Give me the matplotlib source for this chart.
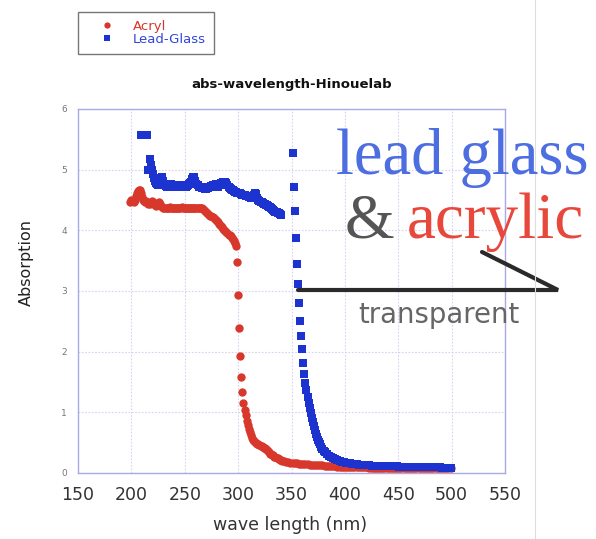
import matplotlib
matplotlib.use("Agg")
import matplotlib.pyplot as plt
from matplotlib.lines import Line2D

W, H = 596, 539

# ---------------- data ----------------
acryl_wl = list(range(199, 341)) + list(range(341, 501, 2))
acryl_abs = ([4.47, 4.50, 4.48, 4.46, 4.50, 4.56, 4.62, 4.65, 4.66, 4.66,   # 199-208
              4.62, 4.55, 4.50, 4.48, 4.47, 4.49, 4.46, 4.44, 4.43, 4.45,   # 209-218
              4.48, 4.46, 4.43, 4.41, 4.40, 4.42, 4.45, 4.46, 4.43, 4.40,   # 219-228
              4.38, 4.37, 4.37, 4.37, 4.36, 4.37, 4.37, 4.38, 4.37, 4.37,   # 229-238
              4.36, 4.37, 4.37, 4.37, 4.36, 4.37, 4.37, 4.37, 4.38, 4.37,   # 239-248
              4.37, 4.36, 4.37, 4.37, 4.37, 4.37, 4.36, 4.37, 4.37, 4.37,   # 249-258
              4.37, 4.36, 4.37, 4.37, 4.37, 4.36, 4.36, 4.36, 4.35, 4.34,   # 259-268
              4.32, 4.30, 4.28, 4.27, 4.25, 4.24, 4.23, 4.22, 4.21, 4.19,   # 269-278
              4.17, 4.15, 4.13, 4.11, 4.09, 4.07, 4.05, 4.03, 4.01, 3.99,   # 279-288
              3.97, 3.95, 3.93, 3.92, 3.90, 3.88, 3.86, 3.83, 3.79, 3.75,   # 289-298
              3.47, 2.94, 2.39, 1.93, 1.59, 1.34, 1.16, 1.04,               # 299-306
              0.95, 0.86, 0.79, 0.73, 0.67, 0.62, 0.58, 0.55, 0.53, 0.51,   # 307-316
              0.49, 0.48, 0.47, 0.46, 0.45, 0.44, 0.43, 0.42, 0.41, 0.40,   # 317-326
              0.38, 0.36, 0.34, 0.32, 0.31, 0.30, 0.29, 0.27, 0.26, 0.25,   # 327-336
              0.24, 0.23, 0.22, 0.21] +                                     # 337-340
             [0.205, 0.195, 0.185, 0.178, 0.172, 0.167, 0.162, 0.158, 0.154, 0.151,  # 341-359
              0.148, 0.145, 0.142, 0.139, 0.136, 0.134, 0.132, 0.130, 0.127, 0.124,  # 361-379
              0.121, 0.118, 0.115, 0.113, 0.111, 0.109, 0.107, 0.105, 0.103, 0.100,  # 381-399
              0.099, 0.098, 0.097, 0.096, 0.095, 0.094, 0.094, 0.093, 0.092, 0.092,  # 401-419
              0.091, 0.090, 0.090, 0.089, 0.089, 0.088, 0.088, 0.087, 0.087, 0.086,  # 421-439
              0.086, 0.085, 0.085, 0.085, 0.084, 0.084, 0.083, 0.083, 0.083, 0.082,  # 441-459
              0.082, 0.082, 0.081, 0.081, 0.081, 0.080, 0.080, 0.080, 0.080, 0.079,  # 461-479
              0.079, 0.079, 0.079, 0.078, 0.078, 0.078, 0.078, 0.077, 0.077, 0.077]) # 481-499

glass_wl = list(range(209, 341)) + list(range(351, 381)) + list(range(381, 501, 2))
glass_abs = ([5.57, 5.57, 5.57, 5.57, 5.57, 5.57, 5.57, 4.99, 5.18, 5.08,   # 209-218
              5.00, 4.93, 4.87, 4.82, 4.78, 4.76, 4.74, 4.76, 4.80, 4.86,   # 219-228
              4.88, 4.82, 4.76, 4.73, 4.72, 4.72, 4.74, 4.76, 4.76, 4.74,   # 229-238
              4.72, 4.72, 4.73, 4.74, 4.73, 4.72, 4.72, 4.74, 4.75, 4.74,   # 239-248
              4.73, 4.72, 4.72, 4.73, 4.74, 4.76, 4.78, 4.80, 4.84, 4.88,   # 249-258
              4.88, 4.82, 4.76, 4.74, 4.72, 4.72, 4.71, 4.70, 4.70, 4.69,   # 259-268
              4.68, 4.68, 4.69, 4.70, 4.72, 4.72, 4.73, 4.74, 4.74, 4.75,   # 269-278
              4.76, 4.74, 4.72, 4.74, 4.76, 4.78, 4.78, 4.79, 4.80, 4.80,   # 279-288
              4.78, 4.74, 4.72, 4.70, 4.68, 4.67, 4.66, 4.65, 4.64, 4.63,   # 289-298
              4.62, 4.62, 4.61, 4.61, 4.60, 4.59, 4.58, 4.58, 4.57, 4.56,   # 299-308
              4.56, 4.55, 4.55, 4.54, 4.54, 4.55, 4.58, 4.61, 4.60, 4.54,   # 309-318
              4.50, 4.48, 4.47, 4.46, 4.45, 4.44, 4.43, 4.42, 4.41, 4.40,   # 319-328
              4.39, 4.38, 4.37, 4.35, 4.33, 4.32, 4.31, 4.30, 4.29, 4.28,   # 329-338
              4.27, 4.25] +                                                 # 339-340
             [5.27, 4.72, 4.32, 3.88, 3.45, 3.12, 2.80, 2.51, 2.26, 2.04,   # 351-360
              1.82, 1.64, 1.49, 1.36, 1.25, 1.16, 1.07, 0.99, 0.91, 0.84,   # 361-370
              0.77, 0.71, 0.65, 0.60, 0.55, 0.51, 0.47, 0.43, 0.40, 0.37] + # 371-380
             [0.350, 0.310, 0.285, 0.260, 0.240, 0.225, 0.210, 0.198, 0.188, 0.178,  # 381-399
              0.170, 0.163, 0.157, 0.151, 0.146, 0.142, 0.138, 0.135, 0.132, 0.129,  # 401-419
              0.127, 0.125, 0.123, 0.121, 0.119, 0.117, 0.116, 0.115, 0.114, 0.113,  # 421-439
              0.112, 0.111, 0.110, 0.109, 0.108, 0.107, 0.106, 0.105, 0.104, 0.103,  # 441-459
              0.102, 0.101, 0.100, 0.099, 0.098, 0.097, 0.096, 0.095, 0.094, 0.093,  # 461-479
              0.093, 0.092, 0.092, 0.091, 0.091, 0.090, 0.090, 0.090, 0.090, 0.090]) # 481-499

x_ticks = [150, 200, 250, 300, 350, 400, 450, 500, 550]
y_ticks = [0, 1, 2, 3, 4, 5, 6]

RED = "#d8372b"
BLUE = "#1c33cf"

# ---------------- figure ----------------
fig = plt.figure(figsize=(W / 100, H / 100), dpi=100)
fig.patch.set_facecolor("white")

def fx(px):
    return px / W

def fy(py):
    return 1 - py / H

ax_l, ax_r, ax_t, ax_b = 78, 505, 109, 473
ax = fig.add_axes([fx(ax_l), fy(ax_b), fx(ax_r) - fx(ax_l), fy(ax_t) - fy(ax_b)])

ax.plot(acryl_wl, acryl_abs, linestyle="none", marker="o", markersize=6.0,
        color=RED, markeredgewidth=0, label="Acryl", zorder=3)
ax.plot(glass_wl, glass_abs, linestyle="none", marker="s", markersize=5.4,
        color=BLUE, markeredgewidth=0, label="Lead-Glass", zorder=4)

ax.set_xlim(150, 550)
ax.set_ylim(0, 6)
ax.set_xticks(x_ticks)
ax.set_yticks(y_ticks)
ax.set_xticklabels([str(t) for t in x_ticks], fontsize=12.5, color="#333333")
ax.set_yticklabels([str(t) for t in y_ticks], fontsize=6.5, color="#777777")
ax.tick_params(axis="both", length=0)
ax.tick_params(axis="x", pad=9)
ax.tick_params(axis="y", pad=8)
ax.grid(True, color="#d4d4f2", linestyle=(0, (1.5, 1.5)), linewidth=0.8)
ax.set_axisbelow(True)
for s in ax.spines.values():
    s.set_color("#a9a9e6")
    s.set_linewidth(1.0)

ax.set_title("abs-wavelength-Hinouelab", fontsize=9.5, fontweight="bold",
             color="#111111", pad=15)
fig.text(fx(26), fy(262), "Absorption", rotation=90, ha="center", va="center",
         fontsize=11.5, color="#222222")
fig.text(fx(290), fy(525), "wave length (nm)", ha="center", va="center",
         fontsize=12.5, color="#333333")

# legend
handles = [Line2D([], [], linestyle="none", marker="o", color=RED, markersize=4.5, markeredgewidth=0),
           Line2D([], [], linestyle="none", marker="s", color=BLUE, markersize=4.0, markeredgewidth=0)]
leg = fig.legend(handles, ["Acryl", "Lead-Glass"], loc="upper left",
                 bbox_to_anchor=(fx(78), fy(12)), frameon=True, fancybox=False,
                 fontsize=9.5, handlelength=3.2, handletextpad=0.37, borderpad=0.6,
                 labelspacing=0.0, borderaxespad=0)
leg.get_frame().set_edgecolor("#555555")
leg.get_frame().set_linewidth(1.0)
for txt, c in zip(leg.get_texts(), [RED, "#3344dd"]):
    txt.set_color(c)

# annotation (slide overlay)
serif = ["Liberation Serif", "DejaVu Serif"]
fig.text(fx(336), fy(174), "lead glass", fontsize=46.5, family=serif,
         color="#4d6ee0", ha="left", va="baseline")
fig.text(fx(345), fy(238), "&", fontsize=46, family=serif,
         color="#555555", ha="left", va="baseline")
fig.text(fx(407), fy(238), "acrylic", fontsize=47, family=serif,
         color="#e8473b", ha="left", va="baseline")
fig.text(fx(358), fy(323), "transparent", fontsize=19.8, family=["DejaVu Sans"],
         color="#666666", ha="left", va="baseline")

arrow_x = [fx(298), fx(558), fx(482)]
arrow_y = [fy(290), fy(290), fy(252)]
fig.add_artist(Line2D(arrow_x, arrow_y, color="#2a2a2a", linewidth=3.0,
                      solid_joinstyle="miter", solid_capstyle="round"))

# right slide edge
fig.add_artist(Line2D([fx(535), fx(535)], [0, 1], color="#dddddd", linewidth=0.8))

fig.savefig("out.png", dpi=100)
